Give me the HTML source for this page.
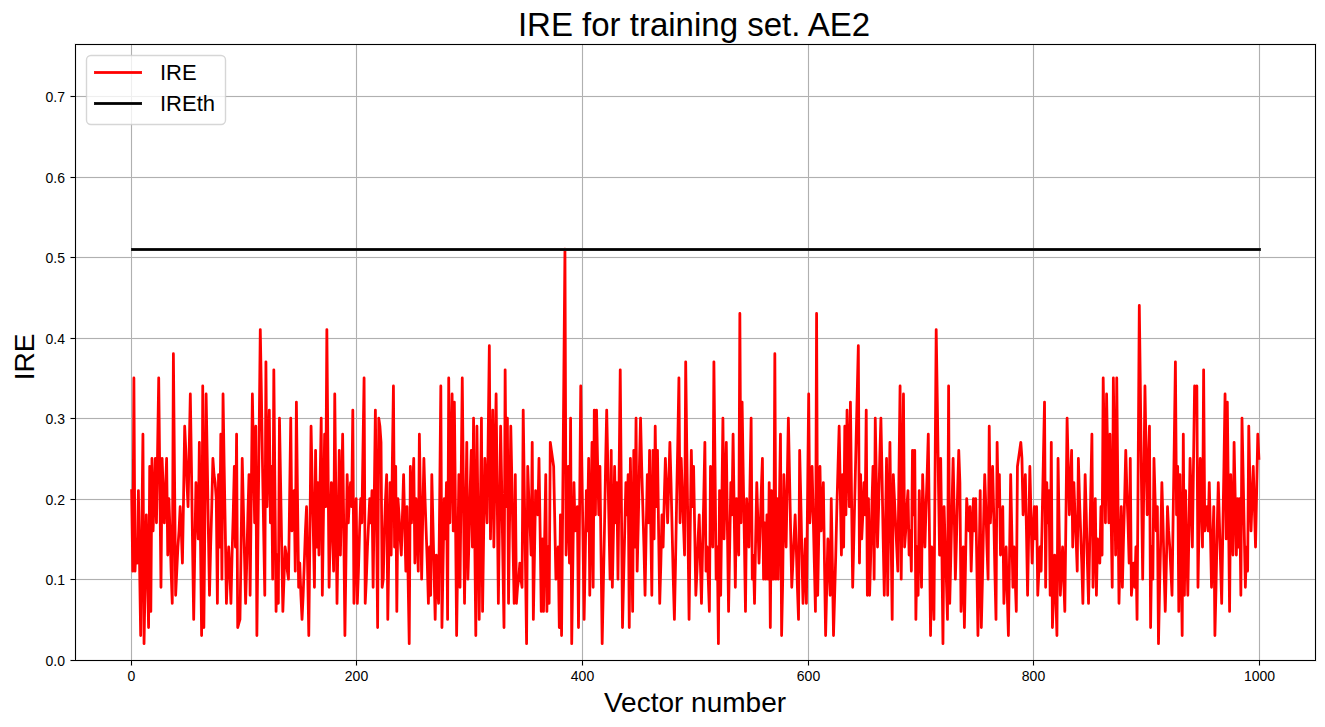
<!DOCTYPE html>
<html><head><meta charset="utf-8"><title>IRE for training set. AE2</title>
<style>html,body{margin:0;padding:0;width:1325px;height:727px;overflow:hidden;background:#fff;font-family:"Liberation Sans",sans-serif}svg{display:block}</style></head>
<body>
<svg width="1325" height="727" viewBox="0 0 1325 727">
<defs>
<clipPath id="ax"><rect x="75.2778" y="43.7222" width="1240" height="616"/></clipPath>
</defs>
<rect width="1325" height="727" fill="#fff"/>
<g shape-rendering="crispEdges">
<rect x="130" y="45" width="3" height="615" fill="#fafafa"/>
<rect x="355" y="45" width="3" height="615" fill="#fafafa"/>
<rect x="581" y="45" width="3" height="615" fill="#fafafa"/>
<rect x="807" y="45" width="3" height="615" fill="#fafafa"/>
<rect x="1032" y="45" width="3" height="615" fill="#fafafa"/>
<rect x="1258" y="45" width="3" height="615" fill="#fafafa"/>
<rect x="76" y="578" width="1239" height="3" fill="#fafafa"/>
<rect x="76" y="498" width="1239" height="3" fill="#fafafa"/>
<rect x="76" y="417" width="1239" height="3" fill="#fafafa"/>
<rect x="76" y="337" width="1239" height="3" fill="#fafafa"/>
<rect x="76" y="256" width="1239" height="3" fill="#fafafa"/>
<rect x="76" y="176" width="1239" height="3" fill="#fafafa"/>
<rect x="76" y="95" width="1239" height="3" fill="#fafafa"/>
<rect x="74" y="43" width="3" height="619" fill="#f1f1f1"/><rect x="1314" y="43" width="3" height="619" fill="#f1f1f1"/><rect x="74" y="43" width="1243" height="3" fill="#f1f1f1"/><rect x="74" y="659" width="1243" height="3" fill="#f1f1f1"/>
<rect x="130" y="661" width="3" height="5" fill="#f1f1f1"/>
<rect x="355" y="661" width="3" height="5" fill="#f1f1f1"/>
<rect x="581" y="661" width="3" height="5" fill="#f1f1f1"/>
<rect x="807" y="661" width="3" height="5" fill="#f1f1f1"/>
<rect x="1032" y="661" width="3" height="5" fill="#f1f1f1"/>
<rect x="1258" y="661" width="3" height="5" fill="#f1f1f1"/>
<rect x="70" y="578" width="5" height="3" fill="#f1f1f1"/>
<rect x="70" y="498" width="5" height="3" fill="#f1f1f1"/>
<rect x="70" y="417" width="5" height="3" fill="#f1f1f1"/>
<rect x="70" y="337" width="5" height="3" fill="#f1f1f1"/>
<rect x="70" y="256" width="5" height="3" fill="#f1f1f1"/>
<rect x="70" y="176" width="5" height="3" fill="#f1f1f1"/>
<rect x="70" y="95" width="5" height="3" fill="#f1f1f1"/>
<rect x="70" y="659" width="5" height="3" fill="#f1f1f1"/>
<rect x="131" y="45" width="1" height="615" fill="#b0b0b0"/>
<rect x="356" y="45" width="1" height="615" fill="#b0b0b0"/>
<rect x="582" y="45" width="1" height="615" fill="#b0b0b0"/>
<rect x="808" y="45" width="1" height="615" fill="#b0b0b0"/>
<rect x="1033" y="45" width="1" height="615" fill="#b0b0b0"/>
<rect x="1259" y="45" width="1" height="615" fill="#b0b0b0"/>
<rect x="76" y="579" width="1239" height="1" fill="#b0b0b0"/>
<rect x="76" y="499" width="1239" height="1" fill="#b0b0b0"/>
<rect x="76" y="418" width="1239" height="1" fill="#b0b0b0"/>
<rect x="76" y="338" width="1239" height="1" fill="#b0b0b0"/>
<rect x="76" y="257" width="1239" height="1" fill="#b0b0b0"/>
<rect x="76" y="177" width="1239" height="1" fill="#b0b0b0"/>
<rect x="76" y="96" width="1239" height="1" fill="#b0b0b0"/>
<rect x="131" y="45" width="1" height="1" fill="#a6a6a6"/><rect x="131" y="659" width="1" height="1" fill="#a6a6a6"/>
<rect x="356" y="45" width="1" height="1" fill="#a6a6a6"/><rect x="356" y="659" width="1" height="1" fill="#a6a6a6"/>
<rect x="582" y="45" width="1" height="1" fill="#a6a6a6"/><rect x="582" y="659" width="1" height="1" fill="#a6a6a6"/>
<rect x="808" y="45" width="1" height="1" fill="#a6a6a6"/><rect x="808" y="659" width="1" height="1" fill="#a6a6a6"/>
<rect x="1033" y="45" width="1" height="1" fill="#a6a6a6"/><rect x="1033" y="659" width="1" height="1" fill="#a6a6a6"/>
<rect x="1259" y="45" width="1" height="1" fill="#a6a6a6"/><rect x="1259" y="659" width="1" height="1" fill="#a6a6a6"/>
<rect x="76" y="579" width="1" height="1" fill="#a6a6a6"/><rect x="1314" y="579" width="1" height="1" fill="#a6a6a6"/>
<rect x="76" y="499" width="1" height="1" fill="#a6a6a6"/><rect x="1314" y="499" width="1" height="1" fill="#a6a6a6"/>
<rect x="76" y="418" width="1" height="1" fill="#a6a6a6"/><rect x="1314" y="418" width="1" height="1" fill="#a6a6a6"/>
<rect x="76" y="338" width="1" height="1" fill="#a6a6a6"/><rect x="1314" y="338" width="1" height="1" fill="#a6a6a6"/>
<rect x="76" y="257" width="1" height="1" fill="#a6a6a6"/><rect x="1314" y="257" width="1" height="1" fill="#a6a6a6"/>
<rect x="76" y="177" width="1" height="1" fill="#a6a6a6"/><rect x="1314" y="177" width="1" height="1" fill="#a6a6a6"/>
<rect x="76" y="96" width="1" height="1" fill="#a6a6a6"/><rect x="1314" y="96" width="1" height="1" fill="#a6a6a6"/>
</g>
<g clip-path="url(#ax)"><polyline points="131.64,490.62 132.77,571.15 133.90,377.89 135.03,571.15 136.16,538.94 137.28,563.09 138.41,490.62 139.54,563.09 140.67,635.57 141.80,530.89 142.93,434.26 144.05,643.62 145.18,579.20 146.31,514.78 147.44,571.15 148.57,627.51 149.70,466.47 150.82,611.41 151.95,458.42 153.08,530.89 154.21,498.68 155.34,458.42 156.47,522.83 157.59,450.36 158.72,377.89 159.85,482.57 160.98,587.25 162.11,458.42 163.24,490.62 164.37,522.83 165.49,490.62 166.62,458.42 167.75,555.04 168.88,498.68 170.01,530.89 171.14,571.15 172.26,603.36 173.39,353.74 174.52,474.52 175.65,595.30 176.78,571.15 177.91,546.99 179.03,530.89 180.16,506.73 181.29,530.89 182.42,563.09 183.55,498.68 184.68,426.21 185.80,450.36 186.93,482.57 188.06,506.73 189.19,450.36 190.32,394.00 191.45,466.47 192.58,546.99 193.70,619.46 194.83,546.99 195.96,482.57 197.09,514.78 198.22,538.94 199.35,442.31 200.47,538.94 201.60,635.57 202.73,385.94 203.86,627.51 204.99,506.73 206.12,394.00 207.24,458.42 208.37,530.89 209.50,595.30 210.63,546.99 211.76,506.73 212.89,458.42 214.01,474.52 215.14,482.57 216.27,498.68 217.40,603.36 218.53,474.52 219.66,546.99 220.79,434.26 221.91,579.20 223.04,394.00 224.17,466.47 225.30,530.89 226.43,603.36 227.56,571.15 228.68,546.99 229.81,571.15 230.94,603.36 232.07,555.04 233.20,514.78 234.33,466.47 235.45,546.99 236.58,434.26 237.71,627.51 238.84,623.49 239.97,619.46 241.10,546.99 242.22,458.42 243.35,506.73 244.48,555.04 245.61,603.36 246.74,563.09 247.87,514.78 249.00,474.52 250.12,595.30 251.25,498.68 252.38,394.00 253.51,458.42 254.64,522.83 255.77,426.21 256.89,635.57 258.02,530.89 259.15,434.26 260.28,329.58 261.41,394.00 262.54,466.47 263.66,530.89 264.79,595.30 265.92,361.79 267.05,506.73 268.18,458.42 269.31,410.10 270.43,522.83 271.56,466.47 272.69,579.20 273.82,369.84 274.95,490.62 276.08,611.41 277.21,555.04 278.33,603.36 279.46,418.15 280.59,482.57 281.72,546.99 282.85,611.41 283.98,579.20 285.10,546.99 286.23,555.04 287.36,571.15 288.49,579.20 289.62,498.68 290.75,418.15 291.87,530.89 293.00,514.78 294.13,490.62 295.26,571.15 296.39,402.05 297.52,498.68 298.64,587.25 299.77,563.09 300.90,595.30 302.03,619.46 303.16,595.30 304.29,563.09 305.42,530.89 306.54,506.73 307.67,571.15 308.80,635.57 309.93,530.89 311.06,426.21 312.19,482.57 313.31,530.89 314.44,587.25 315.57,450.36 316.70,546.99 317.83,482.57 318.96,555.04 320.08,482.57 321.21,418.15 322.34,595.30 323.47,514.78 324.60,434.26 325.73,506.73 326.85,329.58 327.98,458.42 329.11,587.25 330.24,530.89 331.37,482.57 332.50,530.89 333.63,571.15 334.75,394.00 335.88,498.68 337.01,603.36 338.14,530.89 339.27,450.36 340.40,555.04 341.52,498.68 342.65,434.26 343.78,530.89 344.91,635.57 346.04,555.04 347.17,474.52 348.29,522.83 349.42,498.68 350.55,482.57 351.68,506.73 352.81,410.10 353.94,603.36 355.06,546.99 356.19,498.68 357.32,603.36 358.45,571.15 359.58,530.89 360.71,498.68 361.84,522.83 362.96,450.36 364.09,377.89 365.22,603.36 366.35,579.20 367.48,546.99 368.61,522.83 369.73,498.68 370.86,522.83 371.99,490.62 373.12,587.25 374.25,498.68 375.38,410.10 376.50,514.78 377.63,627.51 378.76,418.15 379.89,426.21 381.02,442.31 382.15,587.25 383.27,579.20 384.40,530.89 385.53,498.68 386.66,474.52 387.79,619.46 388.92,546.99 390.05,482.57 391.17,555.04 392.30,466.47 393.43,385.94 394.56,546.99 395.69,466.47 396.82,611.41 397.94,498.68 399.07,514.78 400.20,538.94 401.33,555.04 402.46,514.78 403.59,474.52 404.71,522.83 405.84,571.15 406.97,506.73 408.10,579.20 409.23,643.62 410.36,466.47 411.48,522.83 412.61,490.62 413.74,458.42 414.87,563.09 416.00,498.68 417.13,530.89 418.26,571.15 419.38,434.26 420.51,506.73 421.64,579.20 422.77,514.78 423.90,458.42 425.03,498.68 426.15,530.89 427.28,563.09 428.41,603.36 429.54,546.99 430.67,595.30 431.80,474.52 432.92,522.83 434.05,571.15 435.18,619.46 436.31,555.04 437.44,579.20 438.57,603.36 439.69,498.68 440.82,385.94 441.95,627.51 443.08,563.09 444.21,498.68 445.34,538.94 446.47,482.57 447.59,619.46 448.72,377.89 449.85,522.83 450.98,458.42 452.11,394.00 453.24,530.89 454.36,402.05 455.49,514.78 456.62,635.57 457.75,555.04 458.88,474.52 460.01,587.25 461.13,482.57 462.26,377.89 463.39,490.62 464.52,603.36 465.65,522.83 466.78,442.31 467.90,579.20 469.03,538.94 470.16,490.62 471.29,450.36 472.42,546.99 473.55,418.15 474.68,530.89 475.80,635.57 476.93,426.21 478.06,522.83 479.19,619.46 480.32,514.78 481.45,418.15 482.57,611.41 483.70,530.89 484.83,458.42 485.96,490.62 487.09,522.83 488.22,434.26 489.34,345.68 490.47,538.94 491.60,474.52 492.73,410.10 493.86,546.99 494.99,466.47 496.11,394.00 497.24,498.68 498.37,603.36 499.50,514.78 500.63,426.21 501.76,490.62 502.89,563.09 504.01,627.51 505.14,369.84 506.27,506.73 507.40,418.15 508.53,603.36 509.66,514.78 510.78,426.21 511.91,482.57 513.04,546.99 514.17,603.36 515.30,474.52 516.43,603.36 517.55,587.25 518.68,579.20 519.81,563.09 520.94,579.20 522.07,587.25 523.20,410.10 524.32,490.62 525.45,563.09 526.58,643.62 527.71,466.47 528.84,498.68 529.97,522.83 531.10,555.04 532.22,442.31 533.35,619.46 534.48,555.04 535.61,490.62 536.74,498.68 537.87,514.78 538.99,458.42 540.12,530.89 541.25,611.41 542.38,538.94 543.51,611.41 544.64,538.94 545.76,474.52 546.89,611.41 548.02,546.99 549.15,603.36 550.28,442.31 551.41,450.36 552.53,458.42 553.66,466.47 554.79,522.83 555.92,579.20 557.05,563.09 558.18,546.99 559.31,627.51 560.43,514.78 561.56,635.57 562.69,506.73 563.82,377.89 564.95,249.06 566.08,555.04 567.20,514.78 568.33,466.47 569.46,563.09 570.59,418.15 571.72,643.62 572.85,563.09 573.97,482.57 575.10,530.89 576.23,514.78 577.36,506.73 578.49,627.51 579.62,506.73 580.75,385.94 581.87,466.47 583.00,538.94 584.13,619.46 585.26,555.04 586.39,490.62 587.52,530.89 588.64,458.42 589.77,595.30 590.90,514.78 592.03,442.31 593.16,587.25 594.29,410.10 595.41,514.78 596.54,410.10 597.67,466.47 598.80,514.78 599.93,466.47 601.06,555.04 602.18,643.62 603.31,587.25 604.44,530.89 605.57,466.47 606.70,410.10 607.83,466.47 608.96,522.83 610.08,579.20 611.21,450.36 612.34,587.25 613.47,530.89 614.60,466.47 615.73,522.83 616.85,482.57 617.98,579.20 619.11,474.52 620.24,369.84 621.37,498.68 622.50,627.51 623.62,579.20 624.75,530.89 625.88,482.57 627.01,514.78 628.14,474.52 629.27,627.51 630.39,458.42 631.52,530.89 632.65,611.41 633.78,450.36 634.91,546.99 636.04,418.15 637.17,571.15 638.29,522.83 639.42,466.47 640.55,418.15 641.68,466.47 642.81,506.73 643.94,546.99 645.06,595.30 646.19,530.89 647.32,474.52 648.45,522.83 649.58,450.36 650.71,522.83 651.83,595.30 652.96,450.36 654.09,538.94 655.22,426.21 656.35,506.73 657.48,450.36 658.60,530.89 659.73,603.36 660.86,563.09 661.99,514.78 663.12,546.99 664.25,498.68 665.38,458.42 666.50,490.62 667.63,522.83 668.76,482.57 669.89,442.31 671.02,482.57 672.15,530.89 673.27,579.20 674.40,619.46 675.53,563.09 676.66,498.68 677.79,442.31 678.92,377.89 680.04,522.83 681.17,458.42 682.30,490.62 683.43,522.83 684.56,555.04 685.69,361.79 686.81,450.36 687.94,530.89 689.07,619.46 690.20,530.89 691.33,450.36 692.46,506.73 693.59,466.47 694.71,530.89 695.84,595.30 696.97,571.15 698.10,538.94 699.23,514.78 700.36,563.09 701.48,603.36 702.61,546.99 703.74,498.68 704.87,442.31 706.00,571.15 707.13,546.99 708.25,579.20 709.38,611.41 710.51,466.47 711.64,506.73 712.77,546.99 713.90,361.79 715.02,466.47 716.15,579.20 717.28,546.99 718.41,643.62 719.54,490.62 720.67,595.30 721.80,506.73 722.92,418.15 724.05,538.94 725.18,490.62 726.31,442.31 727.44,530.89 728.57,611.41 729.69,546.99 730.82,482.57 731.95,514.78 733.08,434.26 734.21,514.78 735.34,587.25 736.46,498.68 737.59,530.89 738.72,555.04 739.85,313.47 740.98,522.83 742.11,402.05 743.23,474.52 744.36,538.94 745.49,611.41 746.62,498.68 747.75,522.83 748.88,546.99 750.01,482.57 751.13,418.15 752.26,579.20 753.39,555.04 754.52,603.36 755.65,538.94 756.78,482.57 757.90,522.83 759.03,563.09 760.16,530.89 761.29,490.62 762.42,458.42 763.55,579.20 764.67,522.83 765.80,579.20 766.93,514.78 768.06,579.20 769.19,482.57 770.32,627.51 771.44,490.62 772.57,579.20 773.70,579.20 774.83,353.74 775.96,579.20 777.09,498.68 778.22,579.20 779.34,506.73 780.47,434.26 781.60,635.57 782.73,579.20 783.86,474.52 784.99,514.78 786.11,546.99 787.24,482.57 788.37,418.15 789.50,474.52 790.63,530.89 791.76,587.25 792.88,563.09 794.01,538.94 795.14,514.78 796.27,546.99 797.40,587.25 798.53,619.46 799.65,450.36 800.78,498.68 801.91,555.04 803.04,603.36 804.17,571.15 805.30,538.94 806.43,603.36 807.55,498.68 808.68,394.00 809.81,522.83 810.94,498.68 812.07,466.47 813.20,514.78 814.32,563.09 815.45,611.41 816.58,313.47 817.71,595.30 818.84,530.89 819.97,466.47 821.09,530.89 822.22,506.73 823.35,482.57 824.48,563.09 825.61,635.57 826.74,587.25 827.86,538.94 828.99,563.09 830.12,595.30 831.25,498.68 832.38,563.09 833.51,635.57 834.64,595.30 835.76,555.04 836.89,506.73 838.02,466.47 839.15,426.21 840.28,490.62 841.41,555.04 842.53,474.52 843.66,546.99 844.79,426.21 845.92,514.78 847.05,410.10 848.18,458.42 849.30,506.73 850.43,402.05 851.56,498.68 852.69,587.25 853.82,538.94 854.95,490.62 856.07,442.31 857.20,394.00 858.33,345.68 859.46,563.09 860.59,474.52 861.72,538.94 862.85,514.78 863.97,482.57 865.10,514.78 866.23,410.10 867.36,595.30 868.49,498.68 869.62,595.30 870.74,555.04 871.87,506.73 873.00,466.47 874.13,579.20 875.26,418.15 876.39,482.57 877.51,546.99 878.64,506.73 879.77,458.42 880.90,418.15 882.03,474.52 883.16,538.94 884.28,595.30 885.41,530.89 886.54,458.42 887.67,595.30 888.80,514.78 889.93,442.31 891.06,530.89 892.18,619.46 893.31,474.52 894.44,498.68 895.57,522.83 896.70,546.99 897.83,571.15 898.95,474.52 900.08,385.94 901.21,579.20 902.34,482.57 903.47,394.00 904.60,546.99 905.72,530.89 906.85,506.73 907.98,490.62 909.11,555.04 910.24,530.89 911.37,571.15 912.49,450.36 913.62,514.78 914.75,450.36 915.88,619.46 917.01,546.99 918.14,595.30 919.27,490.62 920.39,538.94 921.52,587.25 922.65,474.52 923.78,514.78 924.91,546.99 926.04,506.73 927.16,474.52 928.29,434.26 929.42,530.89 930.55,635.57 931.68,546.99 932.81,579.20 933.93,619.46 935.06,474.52 936.19,329.58 937.32,402.05 938.45,482.57 939.58,555.04 940.70,458.42 941.83,546.99 942.96,643.62 944.09,506.73 945.22,546.99 946.35,579.20 947.48,619.46 948.60,385.94 949.73,603.36 950.86,555.04 951.99,506.73 953.12,458.42 954.25,514.78 955.37,579.20 956.50,538.94 957.63,490.62 958.76,450.36 959.89,482.57 961.02,611.41 962.14,579.20 963.27,546.99 964.40,627.51 965.53,563.09 966.66,498.68 967.79,514.78 968.91,530.89 970.04,506.73 971.17,571.15 972.30,530.89 973.43,498.68 974.56,530.89 975.69,498.68 976.81,563.09 977.94,635.57 979.07,563.09 980.20,490.62 981.33,627.51 982.46,579.20 983.58,522.83 984.71,474.52 985.84,506.73 986.97,546.99 988.10,579.20 989.23,426.21 990.35,522.83 991.48,498.68 992.61,466.47 993.74,514.78 994.87,571.15 996.00,619.46 997.12,442.31 998.25,506.73 999.38,474.52 1000.51,555.04 1001.64,530.89 1002.77,506.73 1003.90,603.36 1005.02,571.15 1006.15,546.99 1007.28,595.30 1008.41,635.57 1009.54,555.04 1010.67,474.52 1011.79,530.89 1012.92,587.25 1014.05,546.99 1015.18,579.20 1016.31,611.41 1017.44,466.47 1018.56,458.42 1019.69,450.36 1020.82,442.31 1021.95,458.42 1023.08,514.78 1024.21,498.68 1025.34,474.52 1026.46,530.89 1027.59,595.30 1028.72,530.89 1029.85,466.47 1030.98,514.78 1032.11,563.09 1033.23,530.89 1034.36,506.73 1035.49,538.94 1036.62,506.73 1037.75,595.30 1038.88,571.15 1040.00,546.99 1041.13,571.15 1042.26,514.78 1043.39,458.42 1044.52,402.05 1045.65,587.25 1046.77,482.57 1047.90,522.83 1049.03,490.62 1050.16,595.30 1051.29,442.31 1052.42,627.51 1053.55,595.30 1054.67,555.04 1055.80,595.30 1056.93,635.57 1058.06,458.42 1059.19,530.89 1060.32,595.30 1061.44,571.15 1062.57,546.99 1063.70,579.20 1064.83,611.41 1065.96,514.78 1067.09,418.15 1068.21,466.47 1069.34,514.78 1070.47,482.57 1071.60,450.36 1072.73,546.99 1073.86,482.57 1074.98,514.78 1076.11,538.94 1077.24,571.15 1078.37,458.42 1079.50,498.68 1080.63,530.89 1081.76,563.09 1082.88,603.36 1084.01,538.94 1085.14,474.52 1086.27,514.78 1087.40,563.09 1088.53,603.36 1089.65,546.99 1090.78,490.62 1091.91,434.26 1093.04,587.25 1094.17,538.94 1095.30,498.68 1096.42,595.30 1097.55,538.94 1098.68,546.99 1099.81,563.09 1100.94,506.73 1102.07,555.04 1103.19,377.89 1104.32,450.36 1105.45,522.83 1106.58,394.00 1107.71,458.42 1108.84,522.83 1109.97,434.26 1111.09,514.78 1112.22,587.25 1113.35,377.89 1114.48,466.47 1115.61,555.04 1116.74,377.89 1117.86,490.62 1118.99,603.36 1120.12,555.04 1121.25,506.73 1122.38,587.25 1123.51,538.94 1124.63,498.68 1125.76,450.36 1126.89,490.62 1128.02,522.83 1129.15,563.09 1130.28,458.42 1131.40,595.30 1132.53,579.20 1133.66,563.09 1134.79,587.25 1135.92,546.99 1137.05,619.46 1138.18,466.47 1139.30,305.42 1140.43,394.00 1141.56,490.62 1142.69,579.20 1143.82,482.57 1144.95,385.94 1146.07,450.36 1147.20,514.78 1148.33,466.47 1149.46,426.21 1150.59,627.51 1151.72,546.99 1152.84,579.20 1153.97,458.42 1155.10,498.68 1156.23,530.89 1157.36,506.73 1158.49,643.62 1159.61,587.25 1160.74,538.94 1161.87,482.57 1163.00,522.83 1164.13,571.15 1165.26,611.41 1166.39,563.09 1167.51,506.73 1168.64,530.89 1169.77,546.99 1170.90,571.15 1172.03,595.30 1173.16,514.78 1174.28,442.31 1175.41,361.79 1176.54,514.78 1177.67,466.47 1178.80,611.41 1179.93,474.52 1181.05,555.04 1182.18,635.57 1183.31,434.26 1184.44,595.30 1185.57,490.62 1186.70,546.99 1187.82,595.30 1188.95,530.89 1190.08,458.42 1191.21,498.68 1192.34,546.99 1193.47,466.47 1194.60,385.94 1195.72,394.00 1196.85,385.94 1197.98,587.25 1199.11,522.83 1200.24,458.42 1201.37,498.68 1202.49,546.99 1203.62,369.84 1204.75,530.89 1205.88,514.78 1207.01,506.73 1208.14,530.89 1209.26,482.57 1210.39,530.89 1211.52,587.25 1212.65,546.99 1213.78,506.73 1214.91,635.57 1216.03,587.25 1217.16,530.89 1218.29,482.57 1219.42,522.83 1220.55,563.09 1221.68,603.36 1222.81,530.89 1223.93,466.47 1225.06,394.00 1226.19,538.94 1227.32,402.05 1228.45,506.73 1229.58,611.41 1230.70,474.52 1231.83,514.78 1232.96,555.04 1234.09,442.31 1235.22,498.68 1236.35,555.04 1237.47,498.68 1238.60,546.99 1239.73,498.68 1240.86,595.30 1241.99,418.15 1243.12,474.52 1244.24,530.89 1245.37,587.25 1246.50,546.99 1247.63,571.15 1248.76,426.21 1249.89,482.57 1251.02,530.89 1252.14,498.68 1253.27,466.47 1254.40,506.73 1255.53,546.99 1256.66,490.62 1257.79,434.26 1258.91,458.42" fill="none" stroke="#ff0000" stroke-width="2.7778" stroke-linejoin="round" stroke-linecap="square"/></g>
<g shape-rendering="crispEdges">
<rect x="131" y="248" width="1129" height="3" fill="#1b1b1b"/><rect x="131" y="249" width="1129" height="1" fill="#000"/><rect x="1260" y="248" width="1" height="3" fill="#323232"/><rect x="131" y="248" width="1" height="3" fill="#232323"/><rect x="130" y="248" width="1" height="3" fill="#fafafa"/>
<rect x="75" y="44" width="1" height="617" fill="#000"/><rect x="1315" y="44" width="1" height="617" fill="#000"/><rect x="75" y="44" width="1241" height="1" fill="#000"/><rect x="75" y="660" width="1241" height="1" fill="#000"/>
<rect x="131" y="661" width="1" height="4" fill="#000"/><rect x="131" y="665" width="1" height="1" fill="#7f7f7f"/>
<rect x="356" y="661" width="1" height="4" fill="#000"/><rect x="356" y="665" width="1" height="1" fill="#7f7f7f"/>
<rect x="582" y="661" width="1" height="4" fill="#000"/><rect x="582" y="665" width="1" height="1" fill="#7f7f7f"/>
<rect x="808" y="661" width="1" height="4" fill="#000"/><rect x="808" y="665" width="1" height="1" fill="#7f7f7f"/>
<rect x="1033" y="661" width="1" height="4" fill="#000"/><rect x="1033" y="665" width="1" height="1" fill="#7f7f7f"/>
<rect x="1259" y="661" width="1" height="4" fill="#000"/><rect x="1259" y="665" width="1" height="1" fill="#7f7f7f"/>
<rect x="71" y="579" width="4" height="1" fill="#000"/><rect x="70" y="579" width="1" height="1" fill="#7f7f7f"/>
<rect x="71" y="499" width="4" height="1" fill="#000"/><rect x="70" y="499" width="1" height="1" fill="#7f7f7f"/>
<rect x="71" y="418" width="4" height="1" fill="#000"/><rect x="70" y="418" width="1" height="1" fill="#7f7f7f"/>
<rect x="71" y="338" width="4" height="1" fill="#000"/><rect x="70" y="338" width="1" height="1" fill="#7f7f7f"/>
<rect x="71" y="257" width="4" height="1" fill="#000"/><rect x="70" y="257" width="1" height="1" fill="#7f7f7f"/>
<rect x="71" y="177" width="4" height="1" fill="#000"/><rect x="70" y="177" width="1" height="1" fill="#7f7f7f"/>
<rect x="71" y="96" width="4" height="1" fill="#000"/><rect x="70" y="96" width="1" height="1" fill="#7f7f7f"/>
<rect x="71" y="660" width="4" height="1" fill="#000"/><rect x="70" y="660" width="1" height="1" fill="#7f7f7f"/>
</g>
<rect x="86.5" y="55.5" width="139" height="69" rx="4.44" ry="4.44" fill="#fff" fill-opacity="0.8" stroke="#ccc" stroke-opacity="0.8" stroke-width="1.3889"/>
<g shape-rendering="crispEdges"><rect x="94" y="71" width="48" height="3" fill="#ff1b1b"/><rect x="95" y="72" width="46" height="1" fill="#ff0000"/><rect x="94" y="102" width="48" height="3" fill="#1b1b1b"/><rect x="95" y="103" width="46" height="1" fill="#000"/></g>
<g font-family="Liberation Sans, sans-serif" fill="#000" stroke="none">
<text x="694" y="36" font-size="33" text-anchor="middle">IRE for training set. AE2</text>
<text x="695" y="712" font-size="28" text-anchor="middle">Vector number</text>
<text x="34" y="357" font-size="28" text-anchor="middle" transform="rotate(-90 34 357)">IRE</text>
<text x="160" y="80" font-size="22" text-anchor="start">IRE</text>
<text x="160" y="111" font-size="22" text-anchor="start">IREth</text>
<text x="131.5" y="681" font-size="14" text-anchor="middle">0</text>
<text x="356.5" y="681" font-size="14" text-anchor="middle">200</text>
<text x="582.5" y="681" font-size="14" text-anchor="middle">400</text>
<text x="808.5" y="681" font-size="14" text-anchor="middle">600</text>
<text x="1033.5" y="681" font-size="14" text-anchor="middle">800</text>
<text x="1259.5" y="681" font-size="14" text-anchor="middle">1000</text>
<text x="65" y="666" font-size="14" text-anchor="end">0.0</text>
<text x="65" y="585" font-size="14" text-anchor="end">0.1</text>
<text x="65" y="505" font-size="14" text-anchor="end">0.2</text>
<text x="65" y="424" font-size="14" text-anchor="end">0.3</text>
<text x="65" y="344" font-size="14" text-anchor="end">0.4</text>
<text x="65" y="263" font-size="14" text-anchor="end">0.5</text>
<text x="65" y="183" font-size="14" text-anchor="end">0.6</text>
<text x="65" y="102" font-size="14" text-anchor="end">0.7</text>
</g>
</svg>
</body></html>
